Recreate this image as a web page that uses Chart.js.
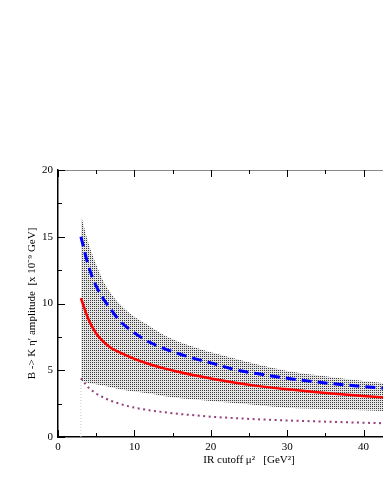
<!DOCTYPE html>
<html lang="en">
<head>
<meta charset="UTF-8">
<title>B -> K eta' amplitude</title>
<script src="https://cdn.jsdelivr.net/npm/chart.js"></script>
<style>
  html, body { margin: 0; padding: 0; background: #fff; overflow: hidden; }
  #wrap { position: absolute; left: 0; top: 0; }
</style>
</head>
<body>
<div id="wrap"><canvas id="amp" width="460" height="495"></canvas></div>
<script>
// IR cutoff mu^2 in GeV^2
const mu2 = [3, 4, 5, 6, 7, 8, 10, 12, 14, 16, 18, 20, 23, 26, 30, 35, 40, 45, 50];
// amplitudes, x 10^-9 GeV
const central   = [10.4, 8.8, 7.75, 7.1, 6.65, 6.35, 5.85, 5.45, 5.12, 4.85, 4.6, 4.38, 4.08, 3.83, 3.57, 3.3, 3.07, 2.87, 2.7];
const dashed    = [15.0, 12.8, 11.3, 10.3, 9.5, 8.75, 7.8, 7.1, 6.6, 6.2, 5.85, 5.55, 5.07, 4.75, 4.4, 4.05, 3.78, 3.55, 3.35];
const bandUpper = [16.6, 14.5, 12.9, 11.6, 10.7, 10.0, 9.0, 8.3, 7.6, 7.1, 6.7, 6.35, 5.9, 5.45, 4.95, 4.55, 4.2, 3.9, 3.65];
const bandLower = [4.2, 4.05, 3.95, 3.85, 3.7, 3.6, 3.4, 3.25, 3.05, 2.9, 2.8, 2.7, 2.55, 2.4, 2.2, 2.1, 2.0, 1.9, 1.8];
const dotted    = [4.4, 3.7, 3.25, 2.95, 2.7, 2.5, 2.2, 2.0, 1.85, 1.72, 1.62, 1.52, 1.42, 1.33, 1.24, 1.15, 1.07, 1.0, 0.95];
const xTicks = [0, 10, 20, 30, 40, 50];
const yTicks = [0, 5, 10, 15, 20];

const pts = arr => arr.map((v, i) => ({ x: mu2[i], y: v }));

// stipple pattern for the error band
const pc = document.createElement('canvas');
pc.width = 2; pc.height = 2;
const pctx = pc.getContext('2d');
pctx.fillStyle = '#e4e4e4';
pctx.fillRect(0, 0, 2, 2);
pctx.fillStyle = '#3a3a3a';
pctx.fillRect(0, 0, 1, 1);

const ctx = document.getElementById('amp').getContext('2d');
const stipple = ctx.createPattern(pc, 'repeat');

const serif = 'Liberation Serif';

// inward ticks + grey frame, like xmgrace
const frameTicks = {
  id: 'frameTicks',
  afterDraw(chart) {
    const { ctx, chartArea: a, scales: { x, y } } = chart;
    ctx.save();
    ctx.strokeStyle = '#888';
    ctx.lineWidth = 1;
    ctx.beginPath();
    ctx.moveTo(a.left, a.top + 0.5);
    ctx.lineTo(a.right, a.top + 0.5);
    ctx.lineTo(a.right, a.bottom);
    ctx.stroke();
    ctx.strokeStyle = '#000';
    ctx.beginPath();
    for (let v = 0; v <= 50; v += 5) {
      const px = Math.round(x.getPixelForValue(v)) + 0.5;
      const len = v % 10 === 0 ? 7 : 4;
      ctx.moveTo(px, a.bottom); ctx.lineTo(px, a.bottom - len);
      ctx.moveTo(px, a.top); ctx.lineTo(px, a.top + len);
    }
    for (let v = 0; v <= 20; v += 2.5) {
      const py = Math.round(y.getPixelForValue(v)) + 0.5;
      const len = v % 5 === 0 ? 7 : 4;
      ctx.moveTo(a.left, py); ctx.lineTo(a.left + len, py);
      ctx.moveTo(a.right, py); ctx.lineTo(a.right - len, py);
    }
    ctx.stroke();
    ctx.restore();
  }
};

new Chart(ctx, {
  type: 'line',
  data: {
    datasets: [
      {
        data: pts(dashed),
        order: 0,
        borderColor: '#0000ff',
        borderWidth: 3,
        borderDash: [10, 6],
        fill: false,
        pointRadius: 0,
        cubicInterpolationMode: 'monotone'
      },
      {
        data: pts(central),
        order: 1,
        borderColor: '#ff0000',
        borderWidth: 2.5,
        fill: false,
        pointRadius: 0,
        cubicInterpolationMode: 'monotone'
      },
      {
        data: pts(dotted),
        order: 2,
        borderColor: '#943f7a',
        borderWidth: 2,
        borderDash: [2, 3.5],
        fill: false,
        pointRadius: 0,
        cubicInterpolationMode: 'monotone'
      },
      {
        data: [{ x: mu2[0], y: 0 }, { x: mu2[0], y: dotted[0] }],
        order: 3,
        borderColor: '#c8c8c8',
        borderWidth: 1,
        borderDash: [1, 2],
        fill: false,
        pointRadius: 0
      },
      {
        data: pts(bandUpper),
        order: 4,
        borderWidth: 0,
        borderColor: 'rgba(0,0,0,0)',
        backgroundColor: stipple,
        fill: '+1',
        pointRadius: 0,
        cubicInterpolationMode: 'monotone'
      },
      {
        data: pts(bandLower),
        order: 5,
        borderWidth: 0,
        borderColor: 'rgba(0,0,0,0)',
        fill: false,
        pointRadius: 0,
        cubicInterpolationMode: 'monotone'
      }
    ]
  },
  options: {
    responsive: false,
    animation: false,
    layout: { padding: { left: 26, top: 170, right: 20, bottom: 28 } },
    plugins: { legend: { display: false }, tooltip: { enabled: false } },
    scales: {
      x: {
        type: 'linear',
        min: 0,
        max: 50,
        grid: { display: false, drawTicks: false },
        border: { color: '#000', width: 1.5 },
        afterBuildTicks: s => { s.ticks = xTicks.map(v => ({ value: v })); },
        afterFit: s => { s.height = 30; },
        ticks: { color: '#000', padding: 4, font: { family: serif, size: 11 } },
        title: {
          display: true,
          text: 'IR cutoff \u03bc\u00b2   [GeV\u00b2]',
          color: '#000',
          padding: { top: 0, bottom: 0 },
          font: { family: serif, size: 11 }
        }
      },
      y: {
        min: 0,
        max: 20,
        grid: { display: false, drawTicks: false },
        border: { color: '#000', width: 1.5 },
        afterBuildTicks: s => { s.ticks = yTicks.map(v => ({ value: v })); },
        afterFit: s => { s.width = 32; },
        ticks: { color: '#000', padding: 5, font: { family: serif, size: 11 } },
        title: {
          display: true,
          text: 'B -> K \u03b7\u2032 amplitude  [x 10\u207b\u2079 GeV]',
          color: '#000',
          padding: { top: 0, bottom: 0 },
          font: { family: serif, size: 11 }
        }
      }
    }
  },
  plugins: [frameTicks]
});
</script>
</body>
</html>
